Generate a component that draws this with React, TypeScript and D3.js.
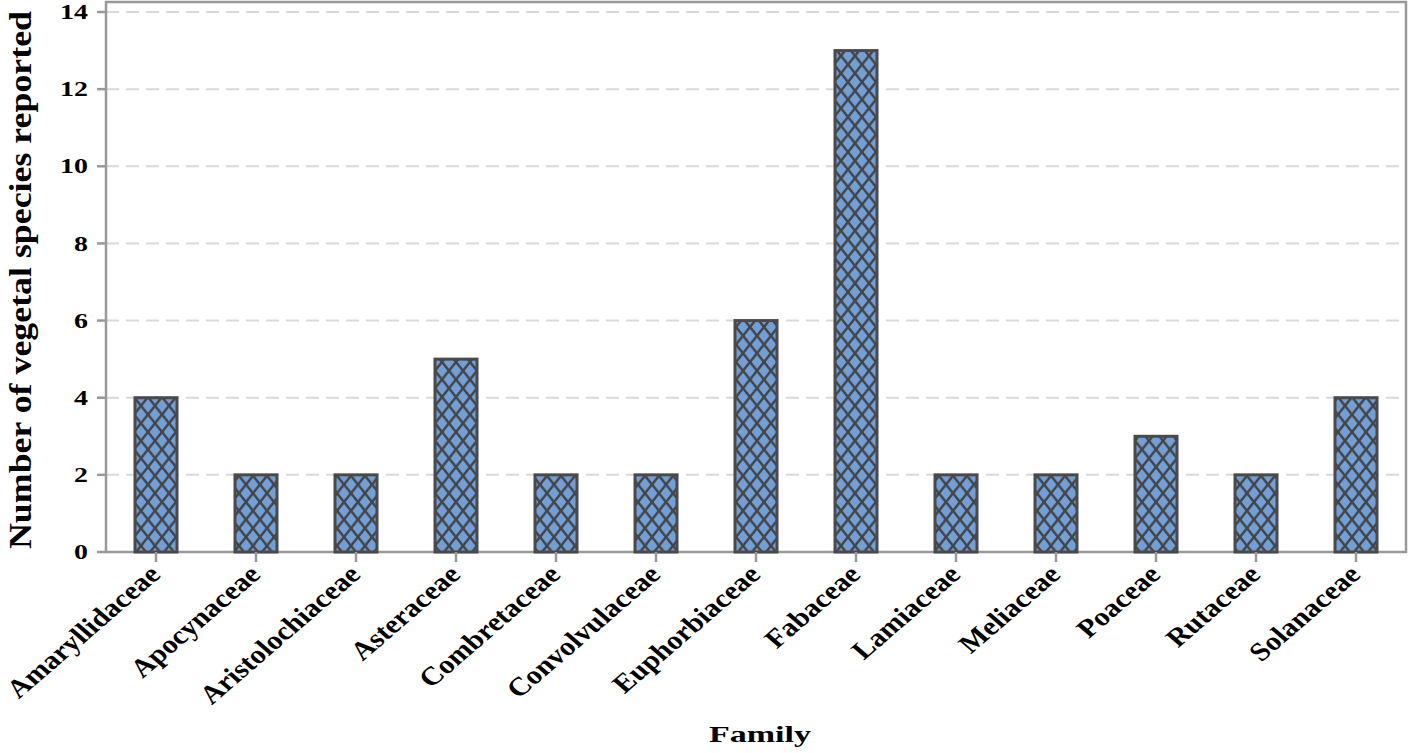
import { useRef, useEffect } from "react";
import { select, scaleBand, scaleLinear } from "d3";

const families = [
  "Amaryllidaceae",
  "Apocynaceae",
  "Aristolochiaceae",
  "Asteraceae",
  "Combretaceae",
  "Convolvulaceae",
  "Euphorbiaceae",
  "Fabaceae",
  "Lamiaceae",
  "Meliaceae",
  "Poaceae",
  "Rutaceae",
  "Solanaceae",
];
const speciesCounts = [4, 2, 2, 5, 2, 2, 6, 13, 2, 2, 3, 2, 4];
const yTicks = [0, 2, 4, 6, 8, 10, 12, 14];

const W = 1409;
const H = 753;
const margin = { top: 12, right: 3, bottom: 201, left: 106 };
const font = "'Liberation Serif', 'Times New Roman', serif";

const App = () => {
  const svgRef = useRef<SVGSVGElement>(null);

  useEffect(() => {
    const svg = select(svgRef.current);
    svg.selectAll("*").remove();

    const innerW = W - margin.left - margin.right;
    const innerH = H - margin.top - margin.bottom;

    const x = scaleBand()
      .domain(families)
      .range([0, innerW])
      .paddingInner(0.58)
      .paddingOuter(0.29);
    const y = scaleLinear().domain([0, 14]).range([innerH, 0]);

    // crosshatch pattern for the bars
    const pw = 14;
    const ph = 17.5;
    const defs = svg.append("defs");
    const pat = defs
      .append("pattern")
      .attr("id", "hatch")
      .attr("patternUnits", "userSpaceOnUse")
      .attr("width", pw)
      .attr("height", ph);
    pat.append("rect").attr("width", pw).attr("height", ph).attr("fill", "#729fd8");
    let d = "";
    for (const k of [-1, 0, 1]) {
      d += `M${k * pw - pw},${-ph} L${k * pw + 2 * pw},${2 * ph} `;
      d += `M${k * pw - pw},${2 * ph} L${k * pw + 2 * pw},${-ph} `;
    }
    pat.append("path").attr("d", d).attr("stroke", "#454545").attr("stroke-width", 2.5);

    const g = svg.append("g").attr("transform", `translate(${margin.left},${margin.top})`);

    // grid lines
    g.selectAll(".grid")
      .data(yTicks.filter((t) => t > 0))
      .join("line")
      .attr("x1", 0)
      .attr("x2", innerW)
      .attr("y1", (v) => y(v))
      .attr("y2", (v) => y(v))
      .attr("stroke", "#d9d9d9")
      .attr("stroke-width", 2)
      .attr("stroke-dasharray", "13,7");

    // frame
    g.append("path")
      .attr("d", `M0,${innerH} L0,-10 L${innerW},-10 L${innerW},${innerH} Z`)
      .attr("fill", "none")
      .attr("stroke", "#999999")
      .attr("stroke-width", 2.5);

    // y ticks
    g.selectAll(".ytick")
      .data(yTicks)
      .join("line")
      .attr("x1", -9)
      .attr("x2", 0)
      .attr("y1", (v) => y(v))
      .attr("y2", (v) => y(v))
      .attr("stroke", "#999999")
      .attr("stroke-width", 2.5);

    g.selectAll(".ylabel")
      .data(yTicks)
      .join("text")
      .attr("transform", (v) => `translate(-18,${y(v)}) scale(1.33,1)`)
      .attr("dy", "0.34em")
      .attr("text-anchor", "end")
      .attr("font-family", font)
      .attr("font-weight", "bold")
      .attr("font-size", 21)
      .text((v) => v);

    // bars
    g.selectAll(".bar")
      .data(speciesCounts)
      .join("rect")
      .attr("x", (_, i) => x(families[i])!)
      .attr("y", (v) => y(v))
      .attr("width", x.bandwidth())
      .attr("height", (v) => innerH - y(v))
      .attr("fill", "url(#hatch)")
      .attr("stroke", "#4a4a4a")
      .attr("stroke-width", 3);

    // x ticks
    g.selectAll(".xtick")
      .data(families)
      .join("line")
      .attr("x1", (f) => x(f)! + x.bandwidth() / 2)
      .attr("x2", (f) => x(f)! + x.bandwidth() / 2)
      .attr("y1", innerH)
      .attr("y2", innerH + 10)
      .attr("stroke", "#999999")
      .attr("stroke-width", 2.5);

    g.selectAll(".xlabel")
      .data(families)
      .join("text")
      .attr(
        "transform",
        (f) =>
          `translate(${x(f)! + x.bandwidth() / 2 + 6},${innerH + 24}) scale(1.16,1) rotate(-45)`
      )
      .attr("text-anchor", "end")
      .attr("font-family", font)
      .attr("font-weight", "bold")
      .attr("font-size", 26)
      .text((f) => f);

    // axis titles
    svg
      .append("text")
      .attr("transform", "translate(760,742) scale(1.42,1)")
      .attr("text-anchor", "middle")
      .attr("font-family", font)
      .attr("font-weight", "bold")
      .attr("font-size", 24)
      .text("Family");

    svg
      .append("text")
      .attr("transform", `translate(31,280) rotate(-90) scale(1.12,1)`)
      .attr("text-anchor", "middle")
      .attr("font-family", font)
      .attr("font-weight", "bold")
      .attr("font-size", 32)
      .text("Number of vegetal species reported");
  }, []);

  return (
    <svg
      ref={svgRef}
      width={W}
      height={H}
      style={{ display: "block", position: "absolute", left: 0, top: 0, background: "#fff" }}
    />
  );
};

export default App;
